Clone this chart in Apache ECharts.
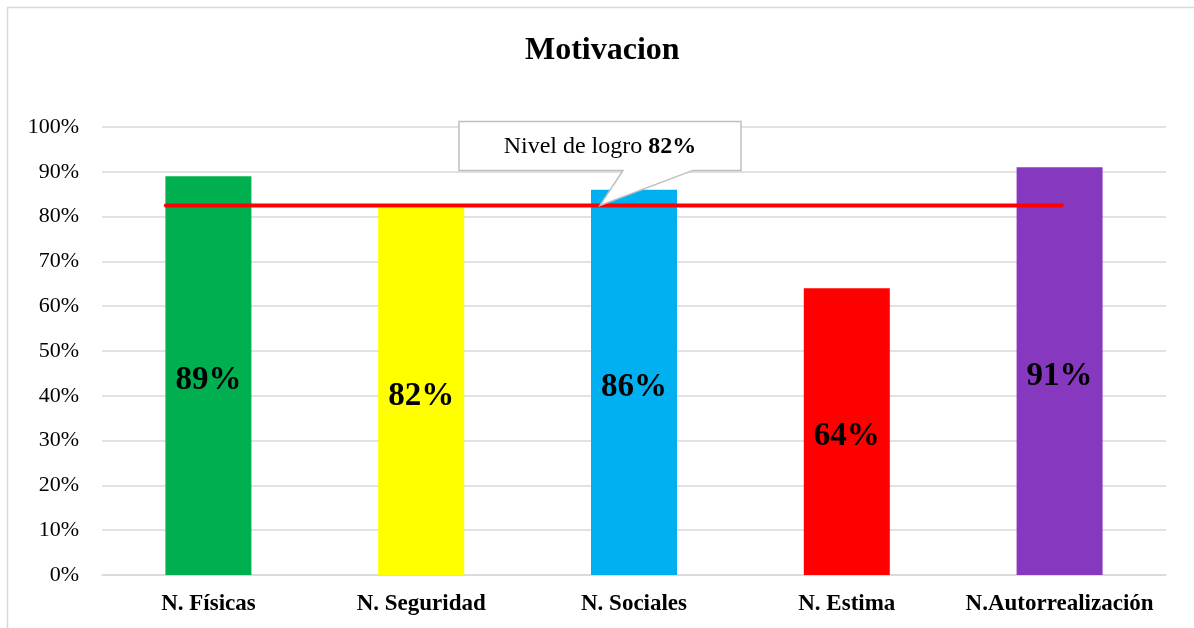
<!DOCTYPE html>
<html>
<head>
<meta charset="utf-8">
<script src="https://cdn.jsdelivr.net/npm/echarts@6/dist/echarts.min.js"></script>
<style>
  html, body { margin: 0; padding: 0; background: #fff; }
  #chart { width: 1194px; height: 628px; }
</style>
</head>
<body>
<div id="chart"></div>
<script>
// datos
const categories = ['N. Físicas', 'N. Seguridad', 'N. Sociales', 'N. Estima', 'N.Autorrealización'];
const values = [0.89, 0.82, 0.86, 0.64, 0.91];
const barColors = ['#00B050', '#FFFF00', '#00B0F0', '#FF0000', '#8639BE'];
const yTicks = [0, 0.1, 0.2, 0.3, 0.4, 0.5, 0.6, 0.7, 0.8, 0.9, 1];
// linea de nivel de logro (x en unidades de categoria)
const goalValue = 0.825;
const goalLine = [[-0.2, goalValue], [4.01, goalValue]];
const goalTipX = 1.84;
const goalLabel = 'Nivel de logro ';
const goalText = '82%';

const serif = '"Liberation Serif", "Times New Roman", serif';
const chart = echarts.init(document.getElementById('chart'));

const option = {
  animation: false,
  backgroundColor: '#fff',
  title: {
    text: 'Motivacion',
    left: 520,
    top: 30,
    textStyle: { fontFamily: serif, fontSize: 32, fontWeight: 'bold', color: '#000' }
  },
  grid: { left: 102, right: 28, top: 127, bottom: 53 },
  xAxis: [
    {
      type: 'category',
      data: categories,
      axisTick: { show: false },
      axisLine: { lineStyle: { color: '#d9d9d9', width: 1.5 } },
      axisLabel: {
        interval: 0,
        hideOverlap: false,
        fontFamily: serif, fontSize: 23, fontWeight: 'bold', color: '#000', margin: 18
      }
    },
    {
      type: 'value',
      min: -0.5,
      max: 4.5,
      show: false
    }
  ],
  yAxis: {
    type: 'value',
    min: 0,
    max: 1,
    interval: 0.1,
    axisLine: { show: false },
    axisTick: { show: false },
    splitLine: { lineStyle: { color: '#d9d9d9', width: 1.5 } },
    axisLabel: {
      fontFamily: serif, fontSize: 22, color: '#000', margin: 23,
      formatter: v => Math.round(v * 100) + '%',
      customValues: yTicks
    }
  },
  series: [
    {
      type: 'bar',
      xAxisIndex: 0,
      barWidth: 86,
      data: values.map((v, i) => ({ value: v, itemStyle: { color: barColors[i] } })),
      label: {
        show: true,
        position: 'inside',
        offset: [0, 5],
        formatter: p => Math.round(p.value * 100) + '%',
        fontFamily: serif, fontSize: 33, fontWeight: 'bold', color: '#000'
      }
    },
    {
      type: 'line',
      xAxisIndex: 1,
      data: goalLine,
      symbol: 'none',
      z: 5,
      lineStyle: { color: '#FF0000', width: 4, cap: 'round' }
    }
  ],
  graphic: [
    {
      type: 'rect',
      shape: { x: 7.5, y: 7.5, width: 1300, height: 700 },
      style: { fill: 'none', stroke: '#d9d9d9', lineWidth: 1.5 },
      silent: true
    }
  ]
};
chart.setOption(option);

// globo de texto anclado a la linea de logro
const tip = chart.convertToPixel({ xAxisIndex: 1, yAxisIndex: 0 }, [goalTipX, goalValue]);
const bx = tip[0] - 141, by = tip[1] - 84, bw = 282, bh = 49;
chart.setOption({
  graphic: [
    option.graphic[0],
    {
      type: 'polygon',
      z: 100,
      shape: {
        points: [
          [bx, by], [bx + bw, by], [bx + bw, by + bh],
          [bx + 234, by + bh], tip, [bx + 164, by + bh], [bx, by + bh]
        ]
      },
      style: { fill: '#fff', stroke: '#bfbfbf', lineWidth: 1.5 }
    },
    {
      type: 'text',
      z: 101,
      x: bx + bw / 2,
      y: by + bh / 2 + 1,
      style: {
        text: '{n|' + goalLabel + '}{b|' + goalText + '}',
        align: 'center',
        verticalAlign: 'middle',
        rich: {
          n: { fontFamily: serif, fontSize: 24, color: '#000' },
          b: { fontFamily: serif, fontSize: 24, fontWeight: 'bold', color: '#000' }
        }
      }
    }
  ]
});
</script>
</body>
</html>
